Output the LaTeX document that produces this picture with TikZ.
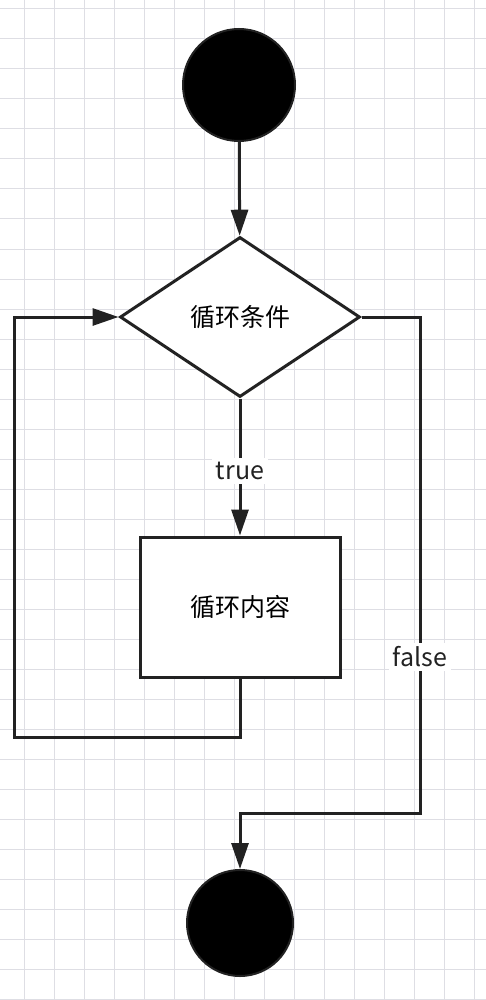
\documentclass[tikz,border=0pt]{standalone}
\usepackage{fontspec}
\setmainfont{Noto Sans CJK SC}
\usetikzlibrary{arrows.meta,shapes.geometric}
\definecolor{gridgray}{RGB}{222,222,228}
\definecolor{ink}{RGB}{34,34,34}
\begin{document}
\begin{tikzpicture}[x=1pt,y=-1pt,
  gridc/.style={draw=gridgray, line width=1pt},
  conn/.style={line width=3pt, draw=ink},
  arr/.style={conn, -{Triangle[length=26pt,width=17pt]}},
  term/.style={circle, fill=black, draw=ink, line width=2pt, inner sep=0pt},
  decision/.style={diamond, draw=ink, line width=3pt, fill=white, minimum width=240pt, minimum height=160pt, inner sep=0pt, font=\fontsize{25}{30}\selectfont},
  procbox/.style={rectangle, draw=ink, line width=3pt, fill=white, minimum width=200pt, minimum height=140pt, font=\fontsize{25}{30}\selectfont},
  lbl/.style={fill=white, inner sep=4pt, font=\fontsize{25}{30}\selectfont, text=ink}
]
\useasboundingbox (0,0) rectangle (486,1000);
\fill[white] (0,0) rectangle (486,1000);
\foreach \i in {0,...,15} \draw[gridc] ({24.3+30*\i},0) -- ({24.3+30*\i},1000);
\foreach \j in {0,...,33} \draw[gridc] (0,{9+30*\j}) -- (486,{9+30*\j});

\node[term, minimum size=112pt] (start) at (239,85) {};
\node[decision] (cond) at (240,317) {循环条件};
\node[procbox] (body) at (240,607) {循环内容};
\node[term, minimum size=106pt] (stop) at (240,923) {};

\coordinate (lb) at (14,737);
\coordinate (rf) at (420,813);

\draw[arr] (start) -- (cond);
\draw[arr] (cond.south) -- node[lbl, pos=0.53] (ltrue) {true} (body.north);
\draw[arr] (body.south) |- (lb) |- (cond.west);
\draw[arr] (cond.east) -| (rf) -| (stop.north);
\node[lbl] (lfalse) at (420,657) {false};
\end{tikzpicture}
\end{document}
